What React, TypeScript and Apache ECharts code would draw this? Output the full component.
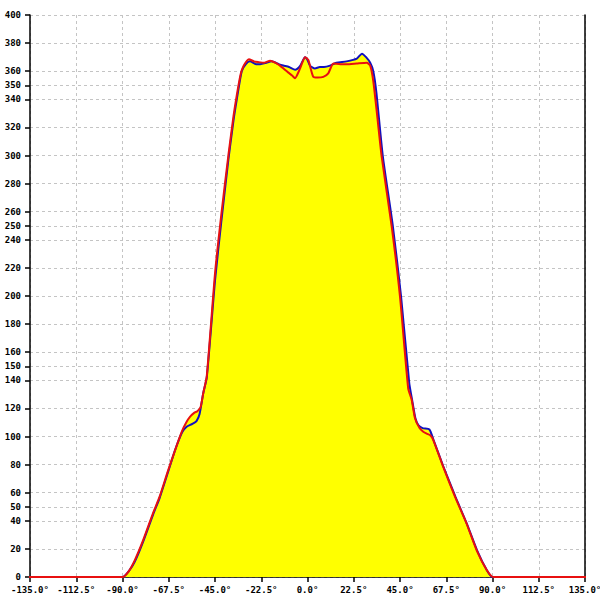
import React, { useEffect, useRef } from "react";
import * as echarts from "echarts";

const xTicks = { min: -135, max: 135, step: 22.5 };
const yTickValues = [0, 20, 40, 50, 60, 80, 100, 120, 140, 150, 160, 180, 200, 220, 240, 250, 260, 280, 300, 320, 340, 350, 360, 380, 400];

const blueAngles = [-180, -90, -87, -84, -80, -75, -72, -68, -64.5, -61, -58.8, -56, -54, -52.5, -50.7, -49, -45, -42, -38.5, -36, -34.4, -32, -30, -28, -25, -23, -20, -17.5, -14, -11.8, -9, -6, -3.5, -1.2, 0, 1.2, 3.6, 6, 8, 11, 14, 19, 24, 26.5, 28.5, 30.5, 32, 33.5, 36.6, 41.5, 45.5, 49.5, 50.9, 52.5, 54, 56, 59.3, 61.2, 66, 72, 77.5, 82.5, 87.2, 90, 180];
const blueValues = [0, 0, 4, 11, 25, 45, 56, 74, 90, 103, 107, 109, 111, 116, 131, 142, 211, 252, 297, 325, 340, 360, 365, 367, 365, 365, 366, 367, 365, 364, 363, 361, 364, 370, 368, 364, 362, 363, 363, 364, 366, 367, 369, 372.5, 370, 366, 360, 345, 300, 250, 200, 138, 126, 113, 108, 106, 105, 98, 79, 57, 38, 19, 5, 0, 0];

const redAngles = [-180, -90, -87, -84, -80, -75, -72, -68, -64.5, -61, -59, -57.2, -55, -53.6, -52, -50.7, -49, -45, -42, -38.5, -36, -34.4, -32.5, -31, -28.5, -26, -24, -21, -18.2, -15.5, -13.4, -11, -9.3, -7.5, -6.1, -3.6, -1.2, 0.4, 2.8, 5, 7.7, 10.1, 12.6, 16, 19, 23.9, 28.8, 30.5, 32, 34, 36.1, 41, 45, 49, 50.7, 52.3, 54.5, 56.3, 58, 59.6, 61.2, 66, 71.8, 77.4, 82.3, 87.2, 90.4, 180];
const redValues = [0, 0, 4, 12, 26, 46, 57, 75, 90, 104, 110, 114, 117, 118, 121, 131, 143, 216, 257, 300, 328, 343, 358, 364, 368.5, 367, 366.5, 366, 367.5, 366, 364, 361, 359, 357, 355, 362, 370, 368, 356, 355.5, 356, 358.5, 365.5, 365, 365, 365.5, 366, 364, 353, 327, 299, 249, 199.5, 134, 126, 113, 106, 103.4, 102, 101, 97.5, 78.5, 57, 38, 19, 5, 0, 0];

const zip = (a: number[], b: number[]) => a.map((x, i) => [x, b[i]]);

export default function App() {
  const ref = useRef<HTMLDivElement>(null);
  useEffect(() => {
    if (!ref.current) return;
    const chart = echarts.init(ref.current, null, { renderer: "svg" });
    const font = "DejaVu Sans Mono";
    const blue = zip(blueAngles, blueValues);
    const red = zip(redAngles, redValues);
    const smooth = 0.2;
    chart.setOption({
      animation: false,
      backgroundColor: "#ffffff",
      grid: { left: 30, right: 15, top: 15, bottom: 23, containLabel: false, outerBoundsMode: "none" },
      xAxis: {
        type: "value",
        min: xTicks.min,
        max: xTicks.max,
        interval: xTicks.step,
        axisLine: { show: true, onZero: false, lineStyle: { color: "#000", width: 1.5 } },
        axisTick: { show: true, length: 5, lineStyle: { color: "#000", width: 1.5 } },
        axisLabel: {
          margin: 8,
          fontFamily: font,
          fontSize: 9,
          fontWeight: "bold",
          color: "#000",
          showMinLabel: true,
          showMaxLabel: true,
          formatter: (v: number) => v.toFixed(1) + "°",
        },
        splitLine: { show: true, lineStyle: { color: "#c4c4c4", type: [3, 3], width: 1 } },
      },
      yAxis: [
        {
          type: "value",
          min: 0,
          max: 400,
          position: "left",
          axisLine: { show: true, onZero: false, lineStyle: { color: "#000", width: 1.5 } },
          axisTick: { show: true, length: 5, customValues: yTickValues, lineStyle: { color: "#000", width: 1.5 } },
          axisLabel: {
            margin: 9,
            fontFamily: font,
            fontSize: 9,
            fontWeight: "bold",
            color: "#000",
            customValues: yTickValues,
          },
          splitLine: { show: true, lineStyle: { color: "#c4c4c4", type: [3, 3], width: 1 } },
        },
        {
          type: "value",
          min: 0,
          max: 400,
          position: "right",
          axisLine: { show: true, onZero: false, lineStyle: { color: "#000", width: 1.5 } },
          axisTick: { show: false },
          axisLabel: { show: false },
          splitLine: { show: false },
        },
      ],
      series: [
        {
          type: "line",
          data: blue,
          smooth,
          showSymbol: false,
          clip: false,
          lineStyle: { width: 0 },
          areaStyle: { color: "#ffff00", opacity: 1 },
          z: 1,
        },
        {
          type: "line",
          data: red,
          smooth,
          showSymbol: false,
          clip: false,
          lineStyle: { width: 0 },
          areaStyle: { color: "#ffff00", opacity: 1 },
          z: 1,
        },
        {
          type: "line",
          data: blue,
          smooth,
          showSymbol: false,
          clip: false,
          lineStyle: { width: 2, color: "#1010c0" },
          z: 3,
        },
        {
          type: "line",
          data: red,
          smooth,
          showSymbol: false,
          clip: false,
          lineStyle: { width: 2, color: "#e81010" },
          z: 4,
        },
      ],
    });
    return () => chart.dispose();
  }, []);
  return <div ref={ref} style={{ position: "fixed", left: 0, top: 0, width: 600, height: 600 }} />;
}
